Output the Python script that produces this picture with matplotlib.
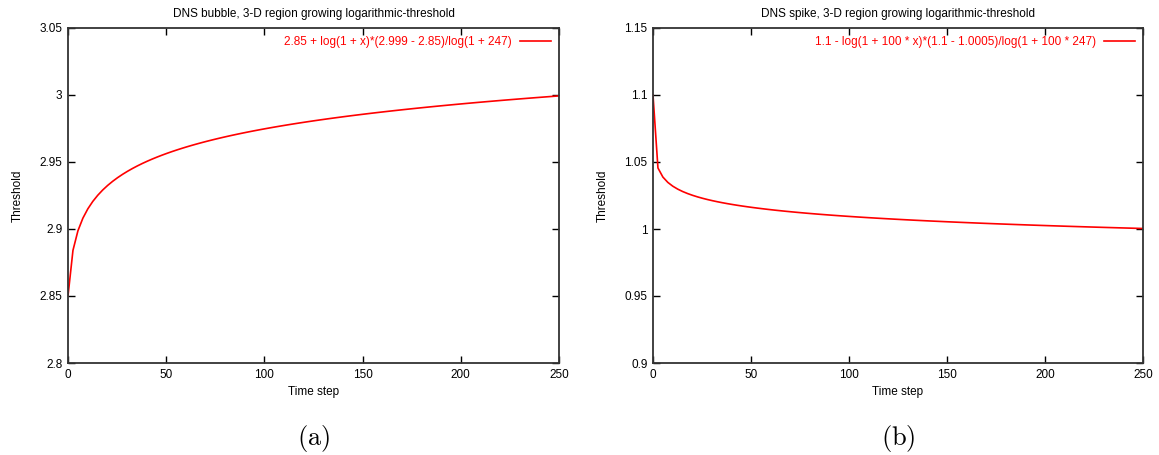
import numpy as np
import matplotlib
matplotlib.use("Agg")
import matplotlib.pyplot as plt

plt.rcParams['font.family'] = ['Liberation Sans', 'DejaVu Sans']
plt.rcParams['mathtext.fontset'] = 'cm'

# gnuplot-style sampling: 100 samples over the x range
time_step = np.linspace(0, 250, 100)

# bubble threshold: grows from 2.85 towards 2.999 at step 247
bubble_start, bubble_end, bubble_scale, bubble_ref = 2.85, 2.999, 1, 247
# spike threshold: falls from 1.1 towards 1.0005 at step 247
spike_start, spike_end, spike_scale, spike_ref = 1.1, 1.0005, 100, 247

bubble = bubble_start + np.log(1 + bubble_scale * time_step) * (bubble_end - bubble_start) / np.log(1 + bubble_scale * bubble_ref)
spike = spike_start - np.log(1 + spike_scale * time_step) * (spike_start - spike_end) / np.log(1 + spike_scale * spike_ref)

panels = [
    dict(y=bubble, ylim=(2.8, 3.05), yticks=[2.8, 2.85, 2.9, 2.95, 3.0, 3.05],
         ylabels=['2.8', '2.85', '2.9', '2.95', '3', '3.05'],
         title='DNS bubble, 3-D region growing logarithmic-threshold',
         key='2.85 + log(1 + x)*(2.999 - 2.85)/log(1 + 247)', tag='(a)',
         rect=[68 / 1159, 92 / 455, 491 / 1159, 335 / 455]),
    dict(y=spike, ylim=(0.9, 1.15), yticks=[0.9, 0.95, 1.0, 1.05, 1.1, 1.15],
         ylabels=['0.9', '0.95', '1', '1.05', '1.1', '1.15'],
         title='DNS spike, 3-D region growing logarithmic-threshold',
         key='1.1 - log(1 + 100 * x)*(1.1 - 1.0005)/log(1 + 100 * 247)', tag='(b)',
         rect=[653 / 1159, 92 / 455, 490 / 1159, 335 / 455]),
]

fig = plt.figure(figsize=(11.59, 4.55), dpi=100)

for p in panels:
    ax = fig.add_axes(p['rect'])
    ax.plot(time_step, p['y'], color='red', linewidth=1.2, label=p['key'])
    ax.set_xlim(0, 250)
    ax.set_ylim(*p['ylim'])
    ax.set_xticks([0, 50, 100, 150, 200, 250])
    ax.set_yticks(p['yticks'])
    ax.set_yticklabels(p['ylabels'])
    ax.tick_params(direction='in', length=5, width=1, top=True, right=True,
                   labelsize=8.5, color='black', pad=4)
    for s in ax.spines.values():
        s.set_linewidth(1.3)
        s.set_color('#333333')
    ax.set_title(p['title'], fontsize=8.5, pad=8)
    ax.set_xlabel('Time step', fontsize=8.5, labelpad=4)
    ax.set_ylabel('Threshold', fontsize=8.5, labelpad=11)
    leg = ax.legend(loc='upper right', frameon=False, fontsize=8.5,
                    markerfirst=False, handlelength=2.6, handletextpad=0.7,
                    borderaxespad=0.3)
    for t in leg.get_texts():
        t.set_color('red')
    x0, y0, w, h = p['rect']
    fig.text(x0 + w / 2, 0.037, r'$\mathrm{' + p['tag'] + '}$', ha='center',
             va='center', fontsize=19)

fig.savefig('out.png', dpi=100)
